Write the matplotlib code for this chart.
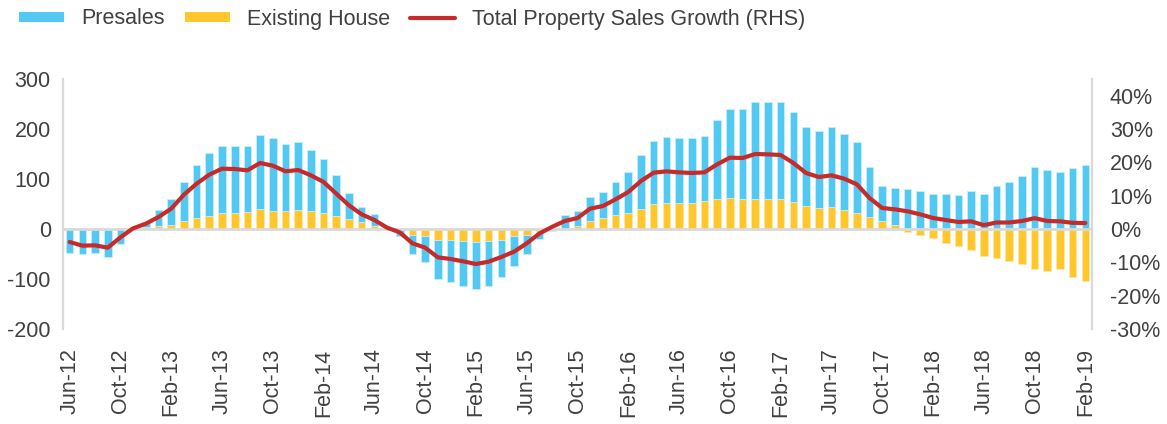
import numpy as np
import matplotlib
matplotlib.use("Agg")
import matplotlib.pyplot as plt
from matplotlib.patches import Patch
from matplotlib.lines import Line2D
from matplotlib.ticker import PercentFormatter, FixedLocator

plt.rcParams['axes.unicode_minus'] = False
plt.rcParams['font.family'] = ['Liberation Sans', 'DejaVu Sans']

# ---- data (monthly, Jun-12 .. Feb-19) ----
presales = [-48, -50, -48, -56, -31, -3, 10, 33, 52, 78,
            106, 126, 134, 134, 131, 147, 145, 134, 135, 121,
            107, 82, 53, 31, 23, -2, -12, -39, -52, -78,
            -84, -90, -95, -90, -74, -59, -39, -14, -2, 25,
            30, 47, 51, 66, 81, 108, 127, 132, 129, 129,
            130, 159, 177, 179, 194, 195, 195, 179, 158, 154,
            160, 151, 141, 101, 70, 75, 80, 75, 70, 70,
            67, 75, 70, 85, 93, 106, 124, 118, 113, 122,
            127]
existing = [0, 0, 0, 0, 2, 3, 3, 5, 8, 16,
            21, 26, 32, 32, 34, 40, 36, 36, 38, 36,
            32, 26, 19, 13, 6, -1, -2, -12, -14, -22,
            -22, -24, -26, -24, -22, -15, -12, -6, -3, 2,
            6, 16, 22, 27, 32, 39, 49, 51, 52, 52,
            55, 59, 62, 60, 60, 59, 59, 54, 46, 41,
            43, 38, 32, 23, 15, 7, -7, -12, -19, -28,
            -35, -42, -55, -58, -64, -71, -80, -84, -81, -97,
            -104]
growth_pct = [-3.9, -5.0, -4.9, -5.6, -2.5, 0.2, 1.6, 3.6, 6.1, 10.3,
              13.6, 16.3, 18.1, 18.0, 17.6, 19.8, 19.0, 17.3, 17.7, 16.1,
              14.1, 10.6, 7.1, 4.4, 2.7, 0.4, -1.0, -4.3, -5.6, -8.5,
              -9.0, -9.7, -10.5, -9.8, -8.4, -6.8, -4.3, -1.35, 0.65, 2.4,
              3.3, 6.1, 6.9, 8.9, 11.1, 14.4, 16.9, 17.3, 17.0, 16.8,
              17.0, 19.4, 21.4, 21.3, 22.5, 22.4, 22.2, 19.8, 16.8, 15.6,
              16.1, 15.1, 13.4, 9.3, 6.3, 5.9, 5.3, 4.4, 3.3, 2.7,
              2.1, 2.3, 1.15, 1.95, 1.95, 2.4, 3.25, 2.4, 2.3, 1.85,
              1.8]
tick_labels = ["Jun-12", "Oct-12", "Feb-13", "Jun-13", "Oct-13", "Feb-14",
               "Jun-14", "Oct-14", "Feb-15", "Jun-15", "Oct-15", "Feb-16",
               "Jun-16", "Oct-16", "Feb-17", "Jun-17", "Oct-17", "Feb-18",
               "Jun-18", "Oct-18", "Feb-19"]
left_ticks = [-200, -100, 0, 100, 200, 300]
right_ticks = [-0.3, -0.2, -0.1, 0.0, 0.1, 0.2, 0.3, 0.4]

# ---- styling ----
BLUE = '#52C9F2'
YELLOW = '#FFC72C'
RED = '#C62A2A'
GRID = '#D9D9D9'
TXT = '#404040'
FS = 15.5

W, H = 1167, 424
fig = plt.figure(figsize=(W / 100, H / 100), dpi=100)
ax1 = fig.add_axes([63.3 / W, 1 - 329 / H, (1091.7 - 63.3) / W, 250 / H])
ax2 = ax1.twinx()

p = np.array(presales, dtype=float)
e = np.array(existing, dtype=float)
g = np.array(growth_pct, dtype=float) / 100.0
x = np.arange(len(p))

blue_bottom = np.where(p * e > 0, e, 0.0)
ax1.bar(x, e, width=0.6, color=YELLOW, edgecolor='#FFE8A6', linewidth=0.6, zorder=2)
ax1.bar(x, p, bottom=blue_bottom, width=0.6, color=BLUE, edgecolor='#C9EEFB',
        linewidth=0.6, zorder=2)
ax1.axhline(0, color=GRID, linewidth=2.0, zorder=3)

ax2.plot(x, g, color=RED, linewidth=3.0, solid_capstyle='round',
         solid_joinstyle='round', zorder=4)

ax1.set_xlim(-0.5, len(p) - 0.5)
ax1.set_ylim(-200, 300)
ax2.set_ylim(-0.30, 0.45)
ax1.yaxis.set_major_locator(FixedLocator(left_ticks))
ax2.yaxis.set_major_locator(FixedLocator(right_ticks))
ax2.yaxis.set_major_formatter(PercentFormatter(xmax=1, decimals=0))

ax1.set_xticks(np.arange(0, len(p), 4))
ax1.set_xticklabels(tick_labels, rotation=90, va='top', ha='center')

for ax in (ax1, ax2):
    for s in ax.spines.values():
        s.set_visible(False)
ax1.spines['left'].set_visible(True)
ax1.spines['left'].set_color(GRID)
ax1.spines['left'].set_linewidth(1.6)
ax2.spines['right'].set_visible(True)
ax2.spines['right'].set_color(GRID)
ax2.spines['right'].set_linewidth(1.6)

ax1.tick_params(axis='y', length=0, pad=9, labelsize=FS, labelcolor=TXT)
ax2.tick_params(axis='y', length=0, pad=13, labelsize=FS, labelcolor=TXT)
ax1.tick_params(axis='x', length=0, pad=14, labelsize=FS, labelcolor=TXT)

ax1.set_zorder(1)
ax2.set_zorder(2)
ax1.patch.set_visible(False)
ax2.patch.set_visible(False)

handles = [Patch(facecolor=BLUE, edgecolor='none', label='Presales'),
           Patch(facecolor=YELLOW, edgecolor='none', label='Existing House'),
           Line2D([0], [0], color=RED, linewidth=3.0, solid_capstyle='round',
                  label='Total Property Sales Growth (RHS)')]
leg = fig.legend(handles=handles, loc='center left',
                 bbox_to_anchor=(19 / W, 1 - 19 / H), ncol=3, frameon=False,
                 borderpad=0, borderaxespad=0, handlelength=2.08,
                 handleheight=0.37, handletextpad=0.79, columnspacing=0.95,
                 prop={'family': 'Liberation Sans', 'size': FS})
for t in leg.get_texts():
    t.set_color(TXT)

fig.savefig('out.png', dpi=100)
